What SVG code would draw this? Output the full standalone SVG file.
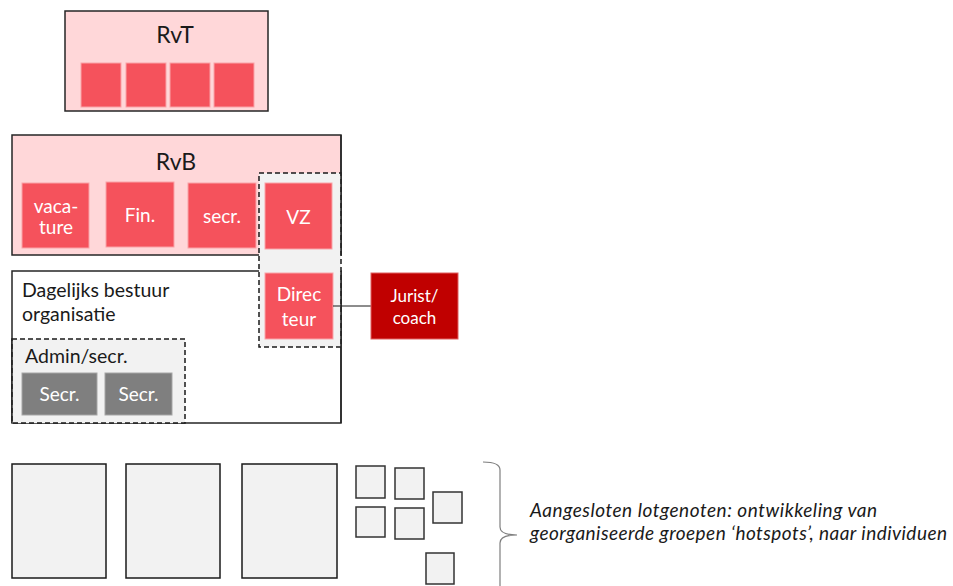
<svg xmlns="http://www.w3.org/2000/svg" width="953" height="586" viewBox="0 0 953 586">
<style>
text{font-family:Lato,"Noto Sans","DejaVu Sans",sans-serif;}
.frame{stroke:#262626;stroke-width:1.5;}
.edge{stroke:#262626;stroke-width:1.5;fill:none;}
.pink{fill:#FFD7D9;}
.red{fill:#F5525C;stroke:#F9A3A8;stroke-width:1;}
.dark{fill:#C00000;stroke:#E06060;stroke-width:1;}
.gray{fill:#7F7F7F;stroke:#A6A6A6;stroke-width:1;}
.dash{fill:#F2F2F2;stroke:#1A1A1A;stroke-width:1.5;stroke-dasharray:5 3;}
.lt{fill:#F2F2F2;stroke:#1A1A1A;stroke-width:1.5;}
.sm{fill:#F2F2F2;stroke:#333;stroke-width:1.5;}
.t{fill:#1A1A1A;font-size:19.5px;}
.h{fill:#1A1A1A;font-size:23px;text-anchor:middle;}
.w{fill:#FFFFFF;font-size:19px;text-anchor:middle;}
.ws{fill:#FFFFFF;font-size:17px;text-anchor:middle;}
.it{fill:#1A1A1A;font-size:19px;font-style:italic;}
</style>
<g id="rvt">
<rect x="65" y="11" width="203" height="100" class="pink frame"/>
<text x="175" y="43" class="h">RvT</text>
<rect x="81" y="63" width="40" height="44" class="red"/>
<rect x="126" y="63" width="40" height="44" class="red"/>
<rect x="170" y="63" width="40" height="44" class="red"/>
<rect x="214" y="63" width="40" height="44" class="red"/>
</g>
<g id="rvb">
<rect x="12" y="135" width="329" height="120" class="pink frame"/>
<text x="176" y="170" class="h">RvB</text>
<g id="vacature"><rect x="22" y="183" width="67" height="65" class="red"/><text x="56" y="213" class="w">vaca-</text><text x="56" y="234" class="w">ture</text></g>
<g id="fin"><rect x="106" y="182" width="68" height="65" class="red"/><text x="140" y="222" class="w">Fin.</text></g>
<g id="secr"><rect x="188" y="183" width="68" height="65" class="red"/><text x="222" y="223" class="w">secr.</text></g>
</g>
<g id="dagelijks">
<rect x="12" y="271" width="329" height="152" fill="#FFFFFF" class="frame"/>
<text x="22" y="297" class="t">Dagelijks bestuur</text>
<text x="22" y="321" class="t">organisatie</text>
</g>
<g id="admin">
<rect x="12" y="339" width="173" height="84" class="dash"/>
<text x="25" y="363" class="t">Admin/secr.</text>
<g id="secr1"><rect x="22" y="373" width="75" height="42" class="gray"/><text x="59.5" y="401" class="w">Secr.</text></g>
<g id="secr2"><rect x="105" y="373" width="67" height="42" class="gray"/><text x="138.5" y="401" class="w">Secr.</text></g>
</g>
<g id="vz-directeur">
<rect x="259" y="173" width="82" height="174" class="dash"/>
<g id="vz"><rect x="265" y="183" width="67" height="66" class="red"/><text x="298.5" y="224" class="w">VZ</text></g>
<g id="directeur"><rect x="265" y="273" width="68" height="66" class="red"/><text x="299" y="301" class="w">Direc</text><text x="299" y="326" class="w">teur</text></g>
</g>
<g id="borders">
<line x1="341" y1="135" x2="341" y2="255" class="edge"/>
<line x1="341" y1="271" x2="341" y2="423" class="edge"/>
<line x1="12" y1="339" x2="12" y2="423" class="edge"/>
</g>
<g id="connectors">
<line x1="333" y1="306" x2="371" y2="306" stroke="#1A1A1A" stroke-width="1"/>
<path d="M483,462 Q500,462 500,470 L500,527 Q500,535 517,535 Q500,535 500,543 L500,586" fill="none" stroke="#7F7F7F" stroke-width="1.2"/>
</g>
<g id="jurist"><rect x="371" y="273" width="87" height="66" class="dark"/><text x="414.5" y="302" class="ws">Jurist/</text><text x="414.5" y="324" class="ws">coach</text></g>
<g id="groepen">
<rect x="12" y="464" width="94" height="114" class="lt"/>
<rect x="126" y="464" width="94" height="114" class="lt"/>
<rect x="242" y="464" width="95" height="114" class="lt"/>
</g>
<g id="hotspots">
<rect x="356" y="466" width="29" height="32" class="sm"/>
<rect x="395" y="468" width="29" height="31" class="sm"/>
<rect x="433" y="492" width="29" height="31" class="sm"/>
<rect x="356" y="507" width="29" height="30" class="sm"/>
<rect x="395" y="508" width="29" height="31" class="sm"/>
<rect x="426" y="553" width="28" height="31" class="sm"/>
</g>
<g id="label">
<text x="530" y="517" class="it" textLength="347" lengthAdjust="spacing">Aangesloten lotgenoten: ontwikkeling van</text>
<text x="530" y="540" class="it" textLength="417" lengthAdjust="spacing">georganiseerde groepen ‘hotspots’, naar individuen</text>
</g>
</svg>
